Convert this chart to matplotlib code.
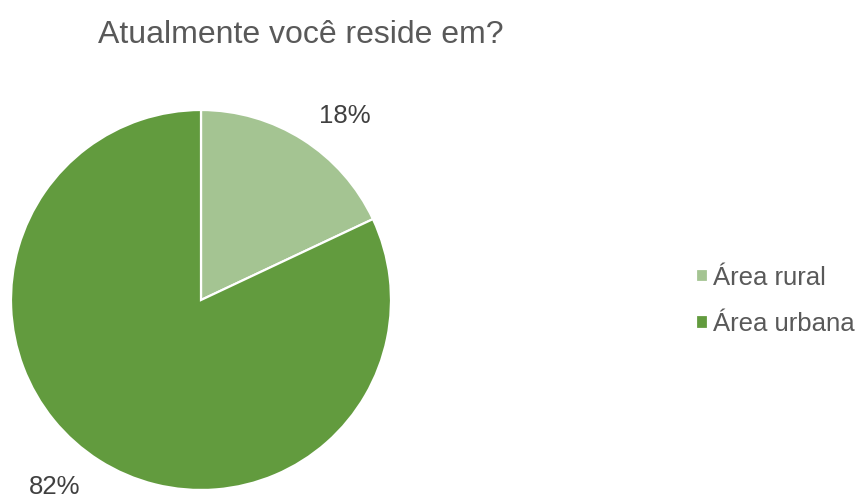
import numpy as np
import matplotlib.pyplot as plt

plt.rcParams['font.family'] = ['Liberation Sans', 'DejaVu Sans']

# Dados do gráfico
categorias = ['Área rural', 'Área urbana']
valores = [18, 82]
cores = ['#A4C492', '#629B3E']
titulo = 'Atualmente você reside em?'

fig = plt.figure(figsize=(8.61, 4.99), dpi=100)
fig.patch.set_facecolor('white')

# Eixo da pizza (centro ~ (201, 300) px, raio ~190 px)
ax = fig.add_axes([11 / 861, 9 / 499, 380 / 861, 380 / 499])
wedges, texts, autotexts = ax.pie(
    valores, colors=cores, startangle=90, counterclock=False,
    autopct='%1.0f%%', pctdistance=1.23,
    wedgeprops=dict(edgecolor='white', linewidth=1.6),
    textprops=dict(color='#404040', fontsize=18.5),
)

# rótulos um pouco girados, como no "melhor ajuste" do Excel
for w, t in zip(wedges, autotexts):
    ang = np.deg2rad((w.theta1 + w.theta2) / 2 - 5.6)
    d = 1.23 if w.theta2 - w.theta1 < 180 else 1.25
    t.set_position((d * np.cos(ang), d * np.sin(ang)))

ax.set_xlim(-1, 1)
ax.set_ylim(-1, 1)
ax.set_aspect('equal')

# Título
fig.text(301 / 861, 1 - 35 / 499, titulo, ha='center', va='center',
         fontsize=23, color='#595959')

# Legenda
fig.legend(wedges, categorias, loc='center left',
           bbox_to_anchor=(678 / 861, 1 - 301 / 499), frameon=False,
           fontsize=18.5, labelcolor='#595959', handlelength=0.45,
           handleheight=0.45, handletextpad=0.2, labelspacing=0.88,
           borderpad=0.2)

fig.savefig('out.png', dpi=100)
